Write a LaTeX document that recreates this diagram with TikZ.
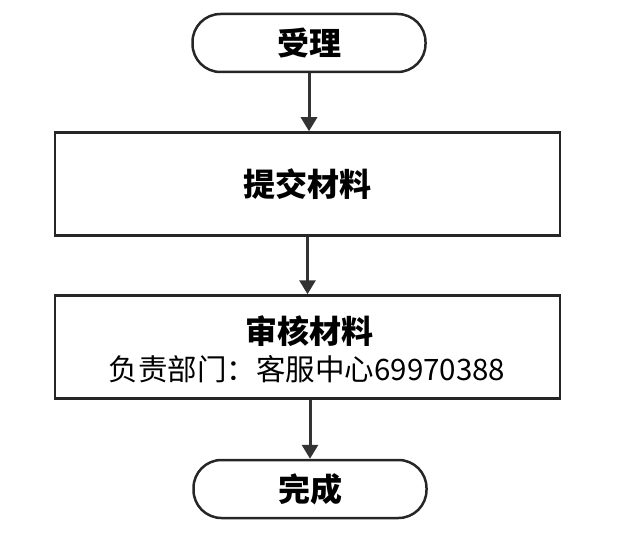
\documentclass[tikz,border=0pt]{standalone}
\usepackage{fontspec}
\setmainfont{Noto Sans CJK SC}
\usetikzlibrary{arrows.meta}
\begin{document}
\begin{tikzpicture}[x=1pt,y=-1pt,
  term/.style={draw=black!85,line width=2.5pt,rounded corners=28pt,minimum width=233pt,minimum height=58pt,font=\fontsize{32}{34}\selectfont\bfseries},
  proc/.style={draw=black!85,line width=2.5pt,minimum width=505pt,minimum height=103pt,align=center},
  arr/.style={draw=black!80,line width=3pt,-{Triangle[length=14pt,width=16pt]}}]
\useasboundingbox (0,0) rectangle (618,559);
\node[term] (a) at (309,43) {受理};
\node[proc,font=\fontsize{32}{34}\selectfont\bfseries] (b) at (307.5,184) {提交材料};
\node[proc] (c) at (307.5,347) {};
\node[font=\fontsize{32}{34}\selectfont\bfseries] (c1) at (309,331) {审核材料};
\node[font=\fontsize{29.5}{32}\selectfont] (c2) at (307,369) {负责部门：客服中心69970388};
\node[term] (d) at (310,489) {完成};
\draw[arr] (a) -- (a|-b.north);
\draw[arr] (b) -- (b|-c.north);
\draw[arr] (c.south-|d) -- (d);
\end{tikzpicture}
\end{document}
